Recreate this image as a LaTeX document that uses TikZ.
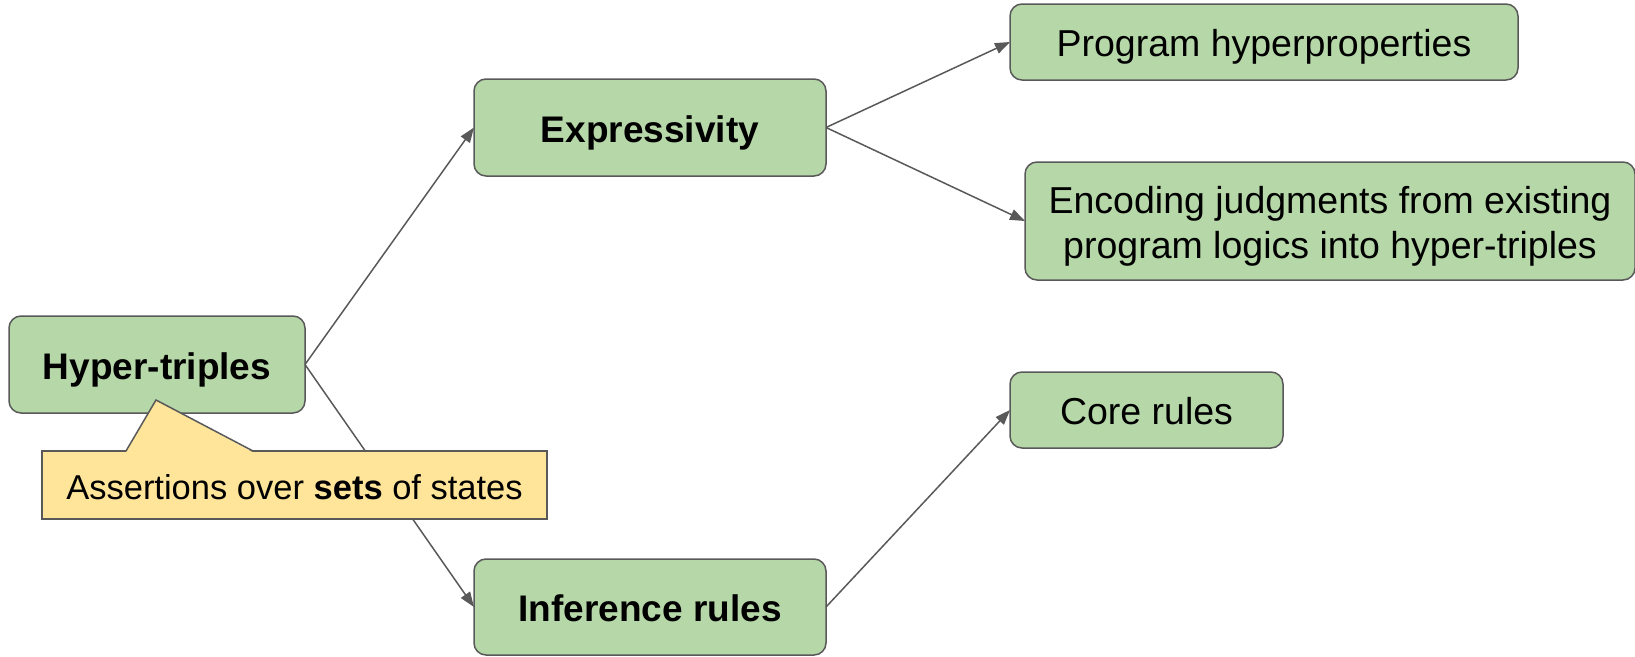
\documentclass[tikz,border=0pt]{standalone}
\usepackage{fontspec}
\setmainfont{Liberation Sans}
\usetikzlibrary{arrows.meta,calc}
\definecolor{boxgreen}{HTML}{B6D7A8}
\definecolor{edgegrey}{HTML}{595959}
\definecolor{noteyellow}{HTML}{FFE599}
\begin{document}
\begin{tikzpicture}[x=1pt,y=-1pt,
  topic/.style={draw=edgegrey, fill=boxgreen, line width=1.5pt, rounded corners=12pt,
    inner sep=0pt, outer sep=0pt, align=center, text height=37pt, text depth=8pt,
    font=\fontsize{37.5}{45}\selectfont},
  strong/.style={font=\fontsize{37}{45}\selectfont\bfseries},
  note/.style={draw=edgegrey, fill=noteyellow, line width=1.5pt, inner sep=0pt,
    outer sep=0pt},
  link/.style={draw=edgegrey, line width=1.5pt, -{Triangle[length=15pt,width=11pt]}}]
\useasboundingbox (0,0) rectangle (1635,656);

% topic boxes
\node[topic, strong, minimum width=296pt, minimum height=97pt] (hyper) at (157,364.5) {Hyper-triples};
\node[topic, strong, minimum width=352pt, minimum height=97pt] (expr) at (650,127.5) {Expressivity};
\node[topic, strong, minimum width=352pt, minimum height=96pt] (infer) at (650,607) {Inference rules};
\node[topic, minimum width=508pt, minimum height=76pt] (prog) at (1264,42) {Program hyperproperties};
\node[topic, minimum width=610pt, minimum height=118pt, text height=83.5pt, text depth=7.8pt] (enc) at (1330,221)
  {Encoding judgments from existing\\program logics into hyper-triples};
\node[topic, minimum width=273pt, minimum height=76pt] (core) at (1146.5,410) {Core rules};

% connectors
\draw[link] (hyper.east) -- (expr.west);
\draw[link] (hyper.east) -- (infer.west);
\draw[link] (expr.east) -- (prog.west);
\draw[link] (expr.east) -- (enc.west);
\draw[link] (infer.east) -- (core.west);

% callout note with its pointer
\node[note, minimum width=505pt, minimum height=68pt] (cnote) at (294.5,485) {};
\coordinate (tip) at (156,400);
\coordinate (pl) at ($(cnote.north west)+(84,0)$);
\coordinate (pr) at ($(cnote.north west)+(211,0)$);
\fill[noteyellow] ($(pl)+(0,1.2)$) -- (tip) -- ($(pr)+(0,1.2)$) -- cycle;
\draw[edgegrey, line width=1.5pt, line join=miter] (pl) -- (tip) -- (pr);
\node[font=\fontsize{34.5}{41}\selectfont, inner sep=0pt, text height=29pt, text depth=0pt]
  (ctext) at (cnote.center) {Assertions over \textbf{sets} of states};
\end{tikzpicture}
\end{document}
